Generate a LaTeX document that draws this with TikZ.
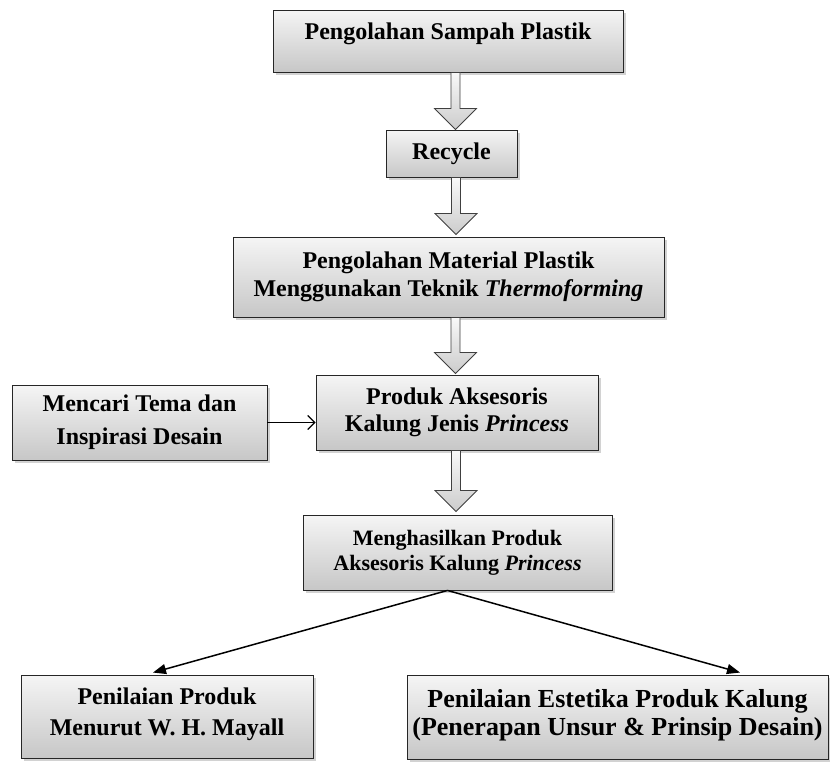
\documentclass[tikz,border=0pt]{standalone}
\usepackage{fontspec}
\setmainfont{Liberation Serif}
\usetikzlibrary{shadows,calc,arrows.meta}
\newcommand\blkarrow[2]{%
  \draw[barr] ($(#1)+(-4.5,0)$) -- ($(#2)+(-4.5,-21)$) -- ($(#2)+(-21,-21)$) -- (#2)
    -- ($(#2)+(21,-21)$) -- ($(#2)+(4.5,-21)$) -- ($(#1)+(4.5,0)$) -- cycle;}
\begin{document}
\begin{tikzpicture}[x=1pt,y=-1pt,
  box/.style={draw=black!85, line width=0.9pt, top color=gray!8, bottom color=gray!44,
    drop shadow={shadow xshift=2.5pt,shadow yshift=-2.5pt,fill=gray!70},
    align=center, inner sep=0pt, font=\bfseries\fontsize{24}{28}\selectfont},
  barr/.style={draw=black!75, line width=0.8pt, top color=gray!5, bottom color=gray!40},
  sidearr/.style={line width=1.2pt, -{Straight Barb[length=7pt,width=14pt,line width=1.2pt]}},
  fan/.style={line width=1.5pt, -{Triangle[length=13pt,width=10pt]}}]
\useasboundingbox (0,0) rectangle (830,761);
\fill[white] (0,0) rectangle (830,761);

\node[box, minimum width=350pt, minimum height=62pt, text depth=19pt] (b1) at (448,41) {Pengolahan Sampah Plastik};
\node[box, minimum width=131pt, minimum height=47pt] (b2) at (451.5,153.5) {Recycle};
\node[box, minimum width=431pt, minimum height=80pt] (b3) at (448.5,277)
  {Pengolahan Material Plastik\\Menggunakan Teknik \textit{Thermoforming}};
\node[box, minimum width=282pt, minimum height=75pt, font=\bfseries\fontsize{24}{26.5}\selectfont] (b4) at (457,412.5)
  {Produk Aksesoris\\Kalung Jenis \textit{Princess}};
\node[box, minimum width=255pt, minimum height=75pt, font=\bfseries\fontsize{24}{33}\selectfont] (lt) at (139.5,422.5)
  {Mencari Tema dan\\Inspirasi Desain};
\node[box, minimum width=309pt, minimum height=75pt, font=\bfseries\fontsize{22}{25}\selectfont] (b5) at (457.5,552.5)
  {Menghasilkan Produk\\Aksesoris Kalung \textit{Princess}};
\node[box, minimum width=292pt, minimum height=83pt, text depth=9pt, font=\bfseries\fontsize{24}{31}\selectfont] (bl) at (167,716.5)
  {Penilaian Produk\\Menurut W. H. Mayall};
\node[box, minimum width=421pt, minimum height=84pt, text depth=10pt, font=\bfseries\fontsize{26}{28}\selectfont] (br) at (617.5,717)
  {Penilaian Estetika Produk Kalung\\(Penerapan Unsur \& Prinsip Desain)};

\coordinate (a1t) at ($(b1.south)+(7.5,0)$);
\coordinate (a1h) at (a1t |- b2.north);
\coordinate (a2t) at ($(b2.south)+(4.5,0)$);
\coordinate (a2h) at ($(a2t |- b3.north)+(0,-2)$);
\coordinate (a3t) at ($(b3.south)+(7,0)$);
\coordinate (a3h) at ($(a3t |- b4.north)+(0,-1)$);
\coordinate (a4t) at ($(b4.south)+(-1,0)$);
\coordinate (a4h) at ($(a4t |- b5.north)+(0,-3)$);
\blkarrow{a1t}{a1h}
\blkarrow{a2t}{a2h}
\blkarrow{a3t}{a3h}
\blkarrow{a4t}{a4h}

\draw[sidearr] (lt.east) -- (lt.east -| b4.west);

\coordinate (fs) at ($(b5.south)+(-10,0)$);
\draw[fan] (fs) -- ($(bl.north)+(-14,-2)$);
\draw[fan] (fs) -- ($(br.north)+(122.5,-2)$);
\end{tikzpicture}
\end{document}
